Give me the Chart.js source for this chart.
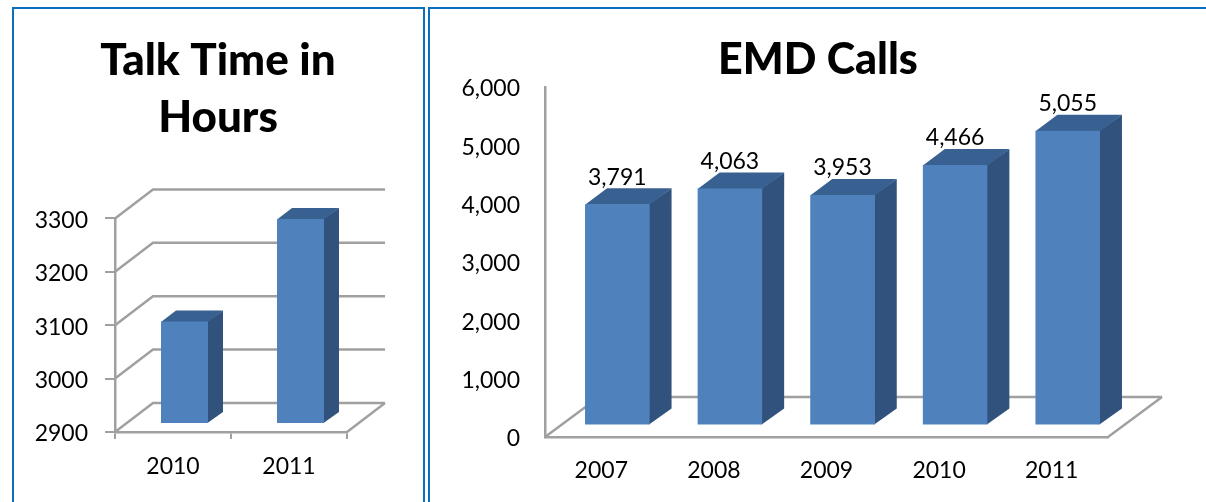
<!DOCTYPE html>
<html>
<head>
<meta charset="utf-8">
<title>Talk Time and EMD Calls</title>
<script src="https://cdn.jsdelivr.net/npm/chart.js@4"></script>
<style>
  html, body { margin: 0; padding: 0; background: #fff; overflow: hidden; }
  #page { position: relative; width: 1206px; height: 502px; }
  canvas { position: absolute; top: 0; filter: blur(0.4px); }
  #talk { left: 0; }
  #emd { left: 430px; }
  .panel { position: absolute; top: 7px; height: 495px; box-sizing: border-box;
           border: 2px solid #0a70bd; border-bottom: 0; }
  #p1 { left: 12px; width: 413px; }
  #p2 { left: 428px; width: 790px; }
</style>
</head>
<body>
<div id="page">
  <div class="panel" id="p1"></div>
  <div class="panel" id="p2"></div>
  <canvas id="talk" width="436" height="502"></canvas>
  <canvas id="emd" width="776" height="502"></canvas>
</div>
<script>
// values
const talkYears = ["2010", "2011"];
const talkHours = [3092, 3284];
const talkTicks = [2900, 3000, 3100, 3200, 3300];

const emdYears = ["2007", "2008", "2009", "2010", "2011"];
const emdCalls = [3791, 4063, 3953, 4466, 5055];
const emdTicks = [0, 1000, 2000, 3000, 4000, 5000, 6000];

const FONT = "Lato";
const GREY = "#a0a0a0";
const FRONT = "#4f81bd";
const SIDE = "#31527c";
const TOP = "#386191";

// fake Excel style 3D: floor and back wall behind the bars, depth faces on the bars
const box3d = {
  id: "box3d",
  afterLayout(chart) {
    // the y scale is narrow because of the centring padding, its labels would get clipped
    chart.scales.y.left = 0;
  },
  beforeDatasetsDraw(chart, args, opts) {
    const { ctx, chartArea: a, scales: { y } } = chart;
    ctx.save();
    ctx.strokeStyle = GREY;
    ctx.lineWidth = 2.5;
    opts.wallTicks.forEach(v => {
      const py = y.getPixelForValue(v);
      ctx.beginPath();
      ctx.moveTo(a.left, py);
      ctx.lineTo(a.left + opts.wallX, py - opts.wallY);
      ctx.lineTo(a.right + opts.wallX, py - opts.wallY);
      ctx.stroke();
    });
    const base = y.getPixelForValue(y.min);
    ctx.beginPath();
    ctx.moveTo(a.right, base);
    ctx.lineTo(a.right + opts.wallX, base - opts.wallY);
    ctx.stroke();
    ctx.restore();
  },
  beforeDatasetDraw(chart, args, opts) {
    const { ctx } = chart;
    ctx.save();
    ctx.translate(opts.barX, -opts.barY);
    chart.getDatasetMeta(args.index).data.forEach(bar => {
      const r = bar.x + bar.width / 2;
      const l = bar.x - bar.width / 2;
      ctx.fillStyle = SIDE;
      ctx.beginPath();
      ctx.moveTo(r - 0.5, bar.y);
      ctx.lineTo(r + opts.depthX, bar.y - opts.depthY);
      ctx.lineTo(r + opts.depthX, bar.base - opts.depthY);
      ctx.lineTo(r - 0.5, bar.base);
      ctx.closePath();
      ctx.fill();
      ctx.fillStyle = TOP;
      ctx.beginPath();
      ctx.moveTo(l, bar.y + 0.5);
      ctx.lineTo(l + opts.depthX, bar.y - opts.depthY);
      ctx.lineTo(r + opts.depthX, bar.y - opts.depthY);
      ctx.lineTo(r, bar.y + 0.5);
      ctx.closePath();
      ctx.fill();
    });
  },
  afterDatasetDraw(chart) {
    chart.ctx.restore();
  },
  afterDatasetsDraw(chart, args, opts) {
    if (!opts.showValues) return;
    const { ctx } = chart;
    ctx.save();
    ctx.font = "23px " + FONT;
    ctx.fillStyle = "#000";
    ctx.textAlign = "center";
    ctx.textBaseline = "middle";
    chart.getDatasetMeta(0).data.forEach((bar, i) => {
      const v = chart.data.datasets[0].data[i];
      ctx.fillText(v.toLocaleString("en-US"), bar.x + opts.barX, bar.y - opts.barY - opts.depthY - 11);
    });
    ctx.restore();
  }
};

function makeChart(id, cfg) {
  return new Chart(document.getElementById(id).getContext("2d"), {
    type: "bar",
    plugins: [box3d],
    data: {
      labels: cfg.labels,
      datasets: [{
        data: cfg.values,
        base: cfg.ticks[0],
        backgroundColor: FRONT,
        borderWidth: 0,
        categoryPercentage: 1,
        barPercentage: cfg.barPercentage
      }]
    },
    options: {
      responsive: false,
      animation: false,
      // left and right padding kept equal so the title stays centred over the panel
      layout: { padding: { left: cfg.sidePad, right: cfg.sidePad } },
      plugins: {
        legend: { display: false },
        tooltip: { enabled: false },
        title: {
          display: true,
          text: cfg.title,
          color: "#000",
          font: { family: FONT, size: cfg.titleSize, weight: 900, lineHeight: cfg.titleLine },
          padding: cfg.titlePad
        },
        box3d: cfg.box
      },
      scales: {
        x: {
          afterFit: s => { s.height = cfg.xHeight; },
          grid: { drawOnChartArea: false, drawTicks: cfg.xTick > 0, tickLength: cfg.xTick, color: GREY, lineWidth: 2 },
          border: { color: GREY, width: 2.5 },
          ticks: { color: "#000", font: { family: FONT, size: 23 }, padding: cfg.xPad, maxRotation: 0 }
        },
        y: {
          min: cfg.ticks[0],
          max: cfg.ticks[cfg.ticks.length - 1],
          afterFit: s => { s.width = 115 - cfg.sidePad; },
          afterBuildTicks: s => { s.ticks = cfg.ticks.map(v => ({ value: v })); },
          grid: { drawOnChartArea: false, drawTicks: cfg.yTick > 0, tickLength: cfg.yTick, color: GREY, lineWidth: 2 },
          border: { color: GREY, width: 2.5 },
          ticks: {
            color: "#000",
            font: { family: FONT, size: 23 },
            padding: cfg.yPad,
            labelOffset: 2,
            callback: cfg.yFormat
          }
        }
      }
    }
  });
}

makeChart("talk", {
  labels: talkYears,
  values: talkHours,
  ticks: talkTicks,
  title: ["Talk Time in", "Hours"],
  titleSize: 44,
  titleLine: 1.3,
  titlePad: { top: 32, bottom: 72 },
  barPercentage: 0.405,
  sidePad: 89,
  xHeight: 70,
  xTick: 7,
  xPad: 14,
  yTick: 10,
  yPad: 17,
  yFormat: v => String(v),
  box: { wallX: 38, wallY: 29, barX: 11.5, barY: 8, depthX: 15, depthY: 11, wallTicks: talkTicks, showValues: false }
});

makeChart("emd", {
  labels: emdYears,
  values: emdCalls,
  ticks: emdTicks,
  title: "EMD Calls",
  titleSize: 43,
  titleLine: 1,
  titlePad: { top: 39, bottom: 5 },
  barPercentage: 0.573,
  sidePad: 98,
  xHeight: 65,
  xTick: 0,
  xPad: 20,
  yTick: 0,
  yPad: 25,
  yFormat: v => v.toLocaleString("en-US"),
  box: { wallX: 54, wallY: 40, barX: 16, barY: 11.5, depthX: 22, depthY: 16, wallTicks: [0], showValues: true }
});
</script>
</body>
</html>
